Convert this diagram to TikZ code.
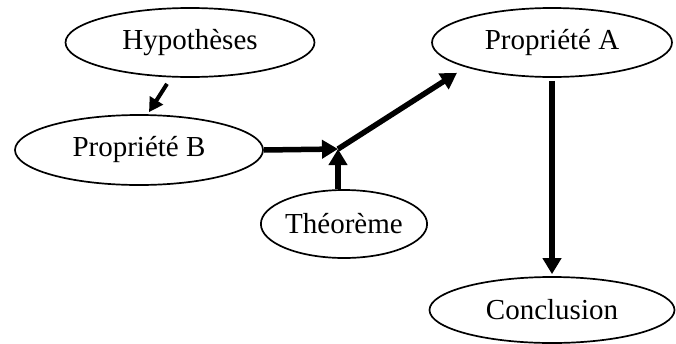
\documentclass[tikz,border=0pt]{standalone}
\usepackage{fontspec}
\setmainfont{Liberation Serif}
\usetikzlibrary{shapes.geometric,arrows.meta,calc}
\tikzset{
  oval/.style={draw=black, line width=1.7pt, ellipse, inner sep=0pt, font=\fontsize{29}{32}\selectfont},
  thickarr/.style={line width=5.5pt, -{Triangle[length=16pt,width=18pt]}},
  thinarr/.style={line width=4pt, -{Triangle[length=14pt,width=15pt]}}
}
\begin{document}
\begin{tikzpicture}[x=1pt,y=-1pt]
\useasboundingbox (0,0) rectangle (676,343);
\node[oval, minimum width=249pt, minimum height=69pt] (hyp) at (190,42.5) {Hypothèses};
\node[oval, minimum width=248pt, minimum height=70pt] (pb) at (139,150) {Propriété B};
\node[oval, minimum width=162pt, minimum height=68pt] (th) at (344,224) {Théorème};
\node[oval, minimum width=240pt, minimum height=69pt] (pa) at (552,42.5) {Propriété A};
\node[oval, minimum width=245pt, minimum height=66pt] (co) at (552,310) {Conclusion};
\coordinate (j) at (338,149);
\draw[thinarr] ($(hyp.south)+(-23,6)$) -- ($(pb.north)+(10,-2)$);
\draw[thickarr] (pb.east) -- (j);
\draw[thickarr] (th.north -| j) -- (j);
\draw[thickarr] (j) -- ($(pa.south)+(-95,-5)$);
\draw[thickarr] ($(pa.south)+(0,3)$) -- ($(co.north)+(0,-2)$);
\end{tikzpicture}
\end{document}
